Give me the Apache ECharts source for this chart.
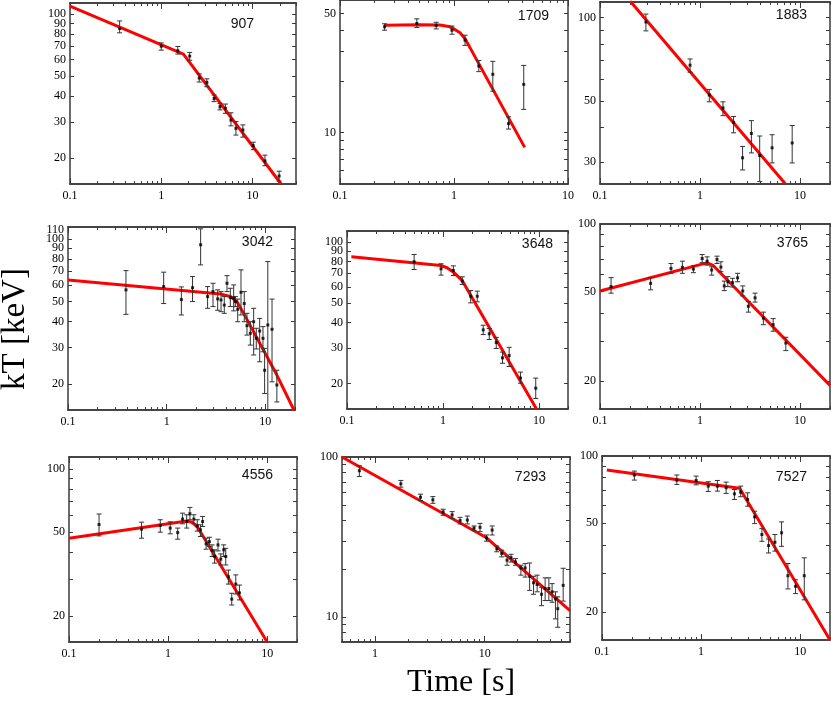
<!DOCTYPE html>
<html><head><meta charset="utf-8">
<script src="https://cdn.jsdelivr.net/npm/echarts@6/dist/echarts.min.js"></script>
<style>html,body{margin:0;padding:0;background:#fff}#c{width:831px;height:701px}</style>
</head><body><div id="c"></div>
<script>
// ---- data ----
const time907 = [0.35,1.0,1.52,2.05,2.61,3.16,3.8,4.41,5.05,5.81,6.59,7.85,10.2,13.7,19.6];
const kT907   = [85,69.8,66.3,62.5,48.9,46.6,38.9,35.5,34.9,30.6,27.9,27.4,23.0,19.4,16.4];
const lo907   = [81,66.8,63.9,59.7,46.8,44.4,37.6,34.3,33.0,28.7,25.9,25.3,22.0,18.4,15.5];
const hi907   = [92.5,72.4,69.6,65.1,51.2,48.5,40.5,36.9,36.6,33.2,30.1,29.0,23.9,20.7,17.3];
const fitT907 = [0.1,1.75,20.6];
const fitK907 = [109,63.9,15];

const time1709 = [0.246,0.472,0.698,0.96,1.25,1.65,2.19,3.01,4.09];
const kT1709   = [41.8,43.7,42.5,39.9,34.9,24.6,22.0,11.3,19.2];
const lo1709   = [39.9,41.4,40.6,37.8,32.5,22.8,17.5,10.5,13.7];
const hi1709   = [43.5,46.5,44.4,42.2,37.3,26.5,26.2,12.4,24.8];
const fitT1709 = [0.245,0.5,0.75,0.9,1.0,1.13,1.25,4.17];
const fitK1709 = [42.6,42.9,42.8,42.0,40.6,38.5,35.6,8.2];

const time1883 = [0.288,0.796,1.24,1.70,2.17,2.67,3.27,3.96,5.27,8.37];
const kT1883   = [96.5,67.3,52.5,47.1,41.8,31.1,38.1,31.7,33.8,35.2];
const lo1883   = [89.6,63.5,49.6,44.2,38.3,28.1,32.4,25.5,29.8,29.8];
const hi1883   = [103.1,70.9,55.0,49.6,43.9,34.2,42.4,37.3,37.7,40.7];
const fitT1883 = [0.2,7.1];
const fitK1883 = [115,25.1];

const time3042 = [0.387,0.933,1.41,1.83,2.21,2.6,2.95,3.29,3.56,3.84,4.09,4.42,4.78,4.97,5.25,5.67,6.12,6.52,7.05,7.62,8.1,8.77,9.47,9.84,10.6,11.7,13.1];
const kT3042   = [56.8,58.9,51.0,58.2,93.6,52.7,55.7,51.4,50.8,48.0,61.1,52.1,51.8,49.9,45.8,55.3,48.8,38.2,35.1,39.9,33.2,36.0,33.2,23.3,38.5,36.7,19.8];
const lo3042   = [43.3,48.8,43.0,49.9,74.9,46.3,47.2,45.3,44.6,43.8,55.7,47.2,45.0,47.2,39.9,43.0,39.9,34.4,30.8,27.6,29.5,25.6,28.6,18.0,15,20.5,16.4];
const hi3042   = [70.3,69.1,58.7,65.8,111.7,58.9,61.1,56.8,55.7,52.7,66.5,57.8,60.0,52.7,51.3,70.9,55.7,43.8,39.9,46.3,37.1,41.4,37.8,29.7,77.7,51.3,23.3];
const fitT3042 = [0.1,3.5,4.5,5.2,6.0,13.1,19.5];
const fitK3042 = [63.4,54.3,52.6,49.5,44.0,22.1,15.0];

const time3648 = [0.5,0.953,1.28,1.585,1.94,2.27,2.62,3.03,3.58,4.16,4.88,6.4,9.23];
const kT3648   = [79.7,73.6,72.2,64.0,53.9,53.9,36.8,35.2,31.9,26.8,27.5,21.3,19.0];
const lo3648   = [73.0,68.5,68.2,61.6,50.0,50.6,34.9,33.0,29.8,25.2,24.3,20.1,16.9];
const hi3648   = [86.6,77.9,76.1,67.2,57.5,57.1,38.8,37.4,33.8,28.6,30.2,22.8,21.3];
const fitT3648 = [0.111,0.95,1.1,1.3,1.58,9.4];
const fitK3648 = [84.3,76.4,74.5,70.5,64.5,15];

const time3765 = [0.129,0.321,0.513,0.667,0.86,1.052,1.18,1.31,1.48,1.62,1.75,1.9,2.12,2.38,2.68,3.05,3.56,4.31,5.4,7.23];
const kT3765   = [52.6,54.4,63.4,64.1,63.0,70.2,68.3,62.4,69.5,64.3,53.0,55.3,54.8,57.6,50.3,43.0,46.9,38.1,35.6,29.5];
const lo3765   = [49.2,50.9,60.3,60.3,60.7,67.2,65.6,59.2,66.7,61.3,50.5,52.6,52.4,55.3,47.8,40.5,44.9,35.6,33.3,27.3];
const hi3765   = [57.7,57.8,66.7,68.3,65.2,73.1,71.4,64.5,71.9,67.9,55.7,58.3,57.3,60.3,53.0,45.2,49.2,40.5,37.9,31.3];
const fitT3765 = [0.1,1.05,1.2,1.35,20];
const fitK3765 = [50.3,66.3,67,65.5,19.1];

const time4556 = [0.201,0.54,0.834,1.05,1.25,1.4,1.54,1.66,1.82,1.97,2.12,2.23,2.42,2.61,2.78,2.95,3.19,3.4,3.64,3.82,4.06,4.39,4.82,5.25];
const kT4556   = [54.4,51.7,53.8,52.3,49.8,57.7,56.2,61.2,57.7,53.6,51.3,56.2,44.0,45.1,40.9,38.3,43.5,37.2,41.2,38.3,30.7,24.0,28.3,25.7];
const lo4556   = [48.0,46.8,50.0,49.1,46.3,54.8,52.3,57.3,54.8,50.6,47.7,53.2,41.5,42.7,38.3,35.6,40.7,34.9,38.3,34.9,28.3,22.5,25.4,23.8];
const hi4556   = [61.0,55.8,57.3,56.0,52.3,61.6,60.5,65.6,60.5,57.3,54.2,59.4,46.8,47.3,43.5,41.2,46.3,39.4,43.5,41.9,33.0,25.6,31.3,28.0];
const fitT4556 = [0.1,1.55,1.75,2.0,10];
const fitK4556 = [46.8,56.5,55.8,52.5,15];

const time7293 = [0.72,1.72,2.6,3.37,4.18,5.05,5.97,6.95,8.0,9.07,10.4,11.7,12.9,14.3,16.0,17.4,19.1,21.4,23.4,25.7,27.9,30.1,33.0,35.6,38.5,41.2,44.2,46.4,52];
const kT7293   = [82.1,68.0,56.1,54.0,45.4,43.5,40.1,40.4,36.0,36.4,31.2,35.0,26.7,25.0,22.7,23.5,22.1,20.3,20.3,18.0,16.4,16.0,13.9,15.1,15.1,14.4,13.0,11.3,15.8];
const lo7293   = [75.6,64.8,53.5,51.4,43.3,41.4,38.2,38.2,34.7,34.2,29.8,32.6,25.6,23.8,21.1,22.1,21.1,18.3,17.8,14.7,13.9,14.4,11.8,12.7,12.7,12.4,9.76,8.65,12.6];
const hi7293   = [88.2,71.4,58.6,56.6,47.2,45.6,42.0,42.8,37.1,38.5,32.6,37.1,27.8,26.2,24.0,24.7,23.2,21.1,21.6,21.8,18.0,18.3,15.4,17.6,17.6,16.2,14.4,13.4,20.2];
const fitT7293 = [0.5,10.4,60];
const fitK7293 = [100,31.3,11.0];

const time7527 = [0.212,0.569,0.891,1.18,1.46,1.79,2.17,2.51,2.95,3.47,4.11,4.8,5.56,6.49,7.52,8.98,11.0];
const kT7527   = [82.2,78.0,77.7,73.3,73.3,72.1,67.7,68.9,63.9,53.4,44.5,39.7,41.1,45.3,29.1,26.1,29.1];
const lo7527   = [78.0,74.6,74.3,69.4,69.6,68.0,63.9,65.7,59.6,49.8,41.5,36.8,37.5,39.4,25.4,24.2,22.7];
const hi7527   = [85.6,82.2,81.3,76.7,77.7,76.4,70.8,73.3,68.4,56.6,47.3,42.5,44.5,50.7,33.0,27.9,35.0];
const fitT7527 = [0.112,2.45,20];
const fitK7527 = [86.5,71.7,15];

const burstNames = ['907','1709','1883','3042','3648','3765','4556','7293','7527'];
const yLabels = [
  [20,30,40,50,60,70,80,90,100],[10,50],[30,50,100],
  [20,30,40,50,60,70,80,90,100,110],[20,30,40,50,60,70,80,90,100],[20,50,100],
  [20,50,100],[10,100],[20,50,100]
];
const xLabelsStd = [0.1,1,10];
const xLabels7293 = [1,10];
const xTitle = 'Time [s]';
const yTitle = 'kT [keV]';

// ---- layout ----
const P = [
 {t:time907,k:kT907,lo:lo907,hi:hi907,ft:fitT907,fk:fitK907,box:[70,3,226,181],x:[0.1,30],y:[15,113],xl:xLabelsStd,nm:[254,17]},
 {t:time1709,k:kT1709,lo:lo1709,hi:hi1709,ft:fitT1709,fk:fitK1709,box:[340,0,228,184],x:[0.1,10],y:[5,60],xl:xLabelsStd,nm:[549,9]},
 {t:time1883,k:kT1883,lo:lo1883,hi:hi1883,ft:fitT1883,fk:fitK1883,box:[600,2,230,182],x:[0.1,20],y:[25,114],xl:xLabelsStd,nm:[807,8]},
 {t:time3042,k:kT3042,lo:lo3042,hi:hi3042,ft:fitT3042,fk:fitK3042,box:[68,227,227,183],x:[0.1,20],y:[15,114],xl:xLabelsStd,nm:[273,235]},
 {t:time3648,k:kT3648,lo:lo3648,hi:hi3648,ft:fitT3648,fk:fitK3648,box:[347,231,221,178],x:[0.1,20],y:[15,113],xl:xLabelsStd,nm:[553,237]},
 {t:time3765,k:kT3765,lo:lo3765,hi:hi3765,ft:fitT3765,fk:fitK3765,box:[600,224,230,185],x:[0.1,20],y:[15,100],xl:xLabelsStd,nm:[808,236]},
 {t:time4556,k:kT4556,lo:lo4556,hi:hi4556,ft:fitT4556,fk:fitK4556,box:[69,457,228,185],x:[0.1,20],y:[15,114],xl:xLabelsStd,nm:[273,468]},
 {t:time7293,k:kT7293,lo:lo7293,hi:hi7293,ft:fitT7293,fk:fitK7293,box:[342,457,228,185],x:[0.5,60],y:[7,100],xl:xLabels7293,nm:[546,470]},
 {t:time7527,k:kT7527,lo:lo7527,hi:hi7527,ft:fitT7527,fk:fitK7527,box:[602,456,228,184],x:[0.1,20],y:[15,100],xl:xLabelsStd,nm:[807,470]}
];

function logTicks(r, majorOnly){
  const out=[];
  for(let d=-2; d<=3; d++){
    for(let m=1;m<=9;m++){
      if(majorOnly && m!==1) continue;
      if(!majorOnly && m===1) continue;
      const v=+(m*Math.pow(10,d)).toPrecision(3);
      if(v>=r[0]*0.999 && v<=r[1]*1.001) out.push(v);
    }
  }
  return out;
}
function yTicks(r){
  const out=[];
  for(let d=-1; d<=3; d++) for(let m=1;m<=9;m++){
    const v=+(m*Math.pow(10,d)).toPrecision(3);
    if(v>r[0] && v<r[1]) out.push(v);
  }
  return out;
}
const fmt = v => { const n=+v; return n<1 ? n.toFixed(1) : String(Math.round(n)); };
const AX = '#3a3a3a';
const labStyle = {fontFamily:'Liberation Serif', fontSize:12, color:'#000', showMinLabel:true, showMaxLabel:true, hideOverlap:false, interval:0};

const grid=[], xAxis=[], yAxis=[], series=[], graphic=[];
P.forEach((p,i)=>{
  grid.push({left:p.box[0], top:p.box[1], width:p.box[2], height:p.box[3], containLabel:false, outerBoundsMode:'none'});
  const base={type:'log',logBase:10,gridIndex:i,min:p.x[0],max:p.x[1],splitLine:{show:false},
    axisLine:{show:true,onZero:false,lineStyle:{color:AX,width:1.5}}};
  const xi=xAxis.length;
  xAxis.push(Object.assign({},base,{position:'bottom',
    axisTick:{show:true,inside:true,length:6,customValues:logTicks(p.x,true),lineStyle:{color:AX}},
    axisLabel:Object.assign({show:true,customValues:p.xl,formatter:fmt,margin:6},labStyle)}));
  xAxis.push(Object.assign({},base,{position:'bottom',
    axisTick:{show:true,inside:true,length:3,customValues:logTicks(p.x,false),lineStyle:{color:AX}},
    axisLabel:{show:false}}));
  xAxis.push(Object.assign({},base,{position:'top',
    axisTick:{show:true,inside:true,length:6,customValues:logTicks(p.x,true),lineStyle:{color:AX}},
    axisLabel:{show:false}}));
  xAxis.push(Object.assign({},base,{position:'top',
    axisTick:{show:true,inside:true,length:3,customValues:logTicks(p.x,false),lineStyle:{color:AX}},
    axisLabel:{show:false}}));
  const ybase={type:'log',logBase:10,gridIndex:i,min:p.y[0],max:p.y[1],splitLine:{show:false},
    axisLine:{show:true,onZero:false,lineStyle:{color:AX,width:1.5}},
    axisTick:{show:true,inside:true,length:4,customValues:yTicks(p.y),lineStyle:{color:AX}}};
  const yi=yAxis.length;
  const labsA = yLabels[i].filter((_,j)=>j%2===0);
  const labsB = yLabels[i].filter((_,j)=>j%2===1);
  yAxis.push(Object.assign({},ybase,{position:'left',
    axisLabel:Object.assign({show:true,customValues:labsA,formatter:fmt,margin:4},labStyle)}));
  yAxis.push(Object.assign({},ybase,{position:'right',axisLabel:{show:false}}));
  if(labsB.length){
    yAxis.push(Object.assign({},ybase,{position:'left',axisLine:{show:false,onZero:false},axisTick:{show:false},
      axisLabel:Object.assign({show:true,customValues:labsB,formatter:fmt,margin:4},labStyle)}));
  }

  series.push({type:'line',xAxisIndex:xi,yAxisIndex:yi,data:p.ft.map((x,j)=>[x,p.fk[j]]),
    showSymbol:false,symbol:'none',lineStyle:{color:'#ff0000',width:3},clip:true,z:2,silent:true});
  series.push({type:'custom',xAxisIndex:xi,yAxisIndex:yi,clip:true,z:3,silent:true,
    data:p.t.map((x,j)=>[x,p.k[j],p.lo[j],p.hi[j]]),
    encode:{x:0,y:1},
    renderItem:(params,api)=>{
      const x=api.value(0);
      const a=api.coord([x,api.value(2)]), b=api.coord([x,api.value(3)]);
      const c=2.5, st={stroke:'#333',lineWidth:1};
      return {type:'group',children:[
        {type:'line',shape:{x1:a[0],y1:a[1],x2:b[0],y2:b[1]},style:st},
        {type:'line',shape:{x1:a[0]-c,y1:a[1],x2:a[0]+c,y2:a[1]},style:st},
        {type:'line',shape:{x1:b[0]-c,y1:b[1],x2:b[0]+c,y2:b[1]},style:st}
      ]};
    }});
  series.push({type:'scatter',xAxisIndex:xi,yAxisIndex:yi,data:p.t.map((x,j)=>[x,p.k[j]]),
    symbol:'rect',symbolSize:3,itemStyle:{color:'#000'},z:4,silent:true});
  graphic.push({type:'text',x:p.nm[0],y:p.nm[1],style:{text:burstNames[i],fontFamily:'Liberation Sans',fontSize:14,fill:'#111',align:'right',verticalAlign:'top'}});
});
graphic.push({type:'text',x:15,y:329,rotation:Math.PI/2,style:{text:yTitle,fontFamily:'Liberation Serif',fontSize:33,fill:'#000',align:'center',verticalAlign:'middle'}});
graphic.push({type:'text',x:461,y:683,style:{text:xTitle,fontFamily:'Liberation Serif',fontSize:32,fill:'#000',align:'center',verticalAlign:'middle'}});

const chart=echarts.init(document.getElementById('c'),null,{renderer:'canvas'});
chart.setOption({animation:false,backgroundColor:'#fff',grid,xAxis,yAxis,series,graphic});
</script></body></html>
